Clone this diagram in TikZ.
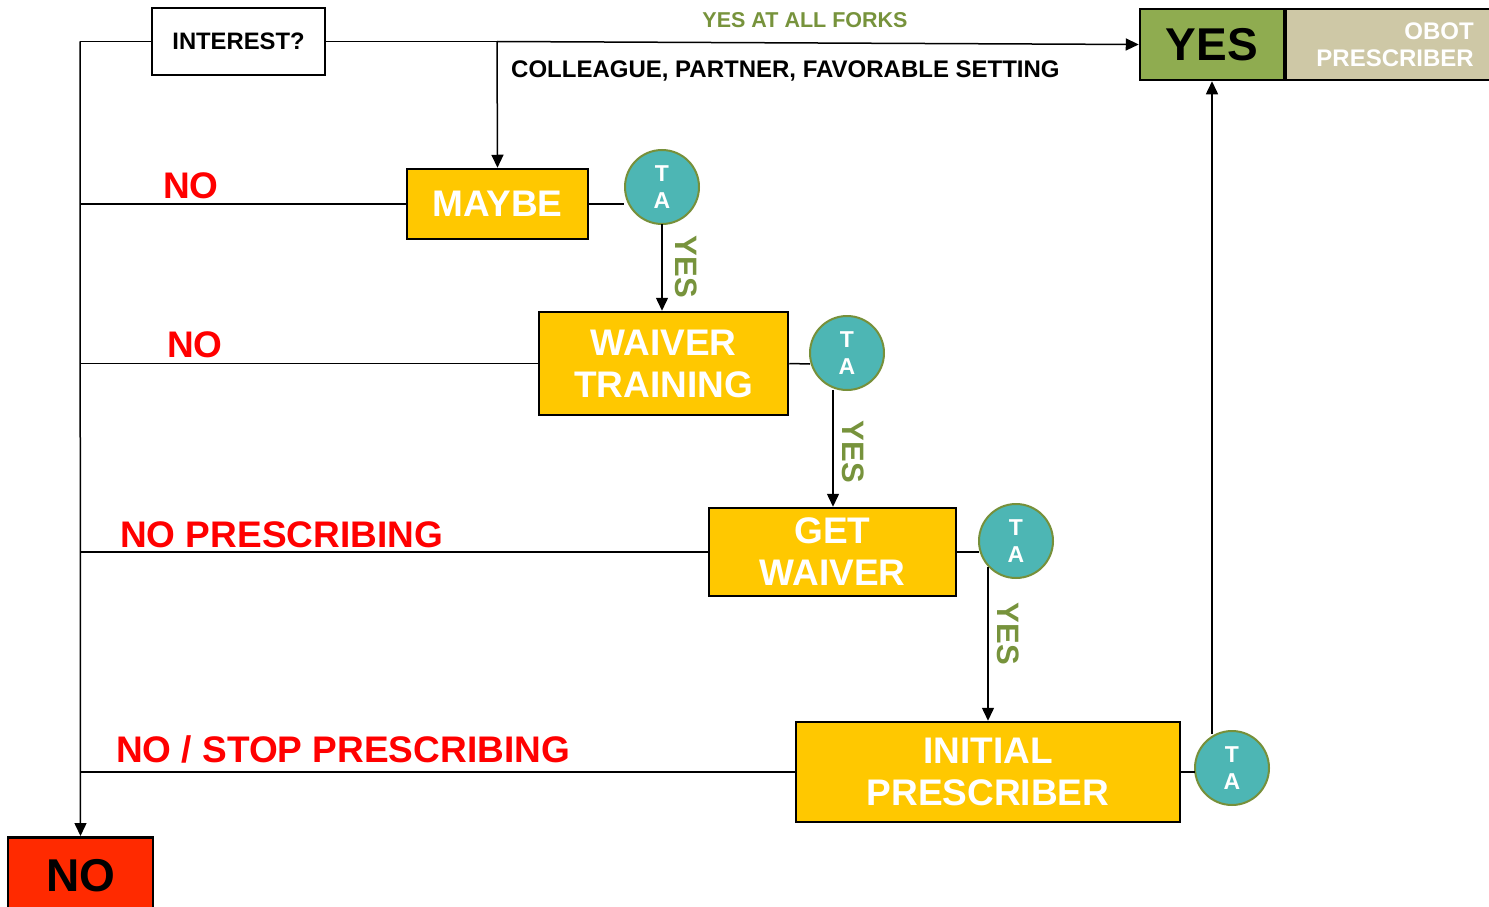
\documentclass[tikz,border=0pt]{standalone}
\usepackage{fontspec}
\setmainfont{Liberation Sans}
\usetikzlibrary{arrows.meta}
\definecolor{gold}{HTML}{FFC800}
\definecolor{leaf}{HTML}{8FAC50}
\definecolor{sand}{HTML}{CEC8A6}
\definecolor{alarm}{HTML}{FF2A00}
\definecolor{teal}{HTML}{4DB6B4}
\definecolor{olive}{HTML}{77903A}
\definecolor{yesgreen}{HTML}{77933C}
\tikzset{
  box/.style={draw=black, line width=2.5pt, inner sep=0pt, align=center},
  stage/.style={box, fill=gold, text=white, font=\bfseries\fontsize{37}{42}\selectfont},
  ta/.style={circle, draw=olive, line width=2pt, fill=teal, text=white, minimum size=74pt,
    inner sep=0pt, align=center, font=\bfseries\fontsize{23}{27}\selectfont},
  link/.style={line width=1.5pt, draw=black},
  arr/.style={link, -{Triangle[length=13pt,width=12pt]}},
  nolabel/.style={text=red, font=\bfseries\fontsize{37}{40}\selectfont, anchor=west, inner sep=0pt},
  yeslabel/.style={text=yesgreen, font=\bfseries\fontsize{31}{34}\selectfont, rotate=-90, inner sep=0pt}
}
\begin{document}
\begin{tikzpicture}[x=1pt,y=-1pt]
\useasboundingbox (0,0) rectangle (1489,907);

% decision boxes
\node[box, minimum width=173pt, minimum height=67pt, font=\bfseries\fontsize{23.8}{26}\selectfont] (interest) at (238.5,41.5) {INTEREST?};
\node[box, fill=leaf, minimum width=144pt, minimum height=71pt, font=\bfseries\fontsize{46}{50}\selectfont] (yes) at (1212,44.5) {YES};
\node[box, fill=sand, minimum width=220pt, minimum height=71pt, anchor=west] (obot) at (1284,44.5) {};
\node[text=white, align=right, anchor=east, inner sep=0pt, font=\bfseries\fontsize{24}{27}\selectfont] (obottxt) at (1474,44.5) {OBOT\\PRESCRIBER};
\node[box, fill=alarm, minimum width=145pt, minimum height=90pt, anchor=north] (no) at (80.5,836) {};
\node[font=\bfseries\fontsize{46}{50}\selectfont, inner sep=0pt] (notxt) at (81,876) {NO};

% stage boxes
\node[stage, minimum width=181pt, minimum height=70pt] (maybe) at (497.5,204) {MAYBE};
\node[stage, minimum width=249pt, minimum height=103pt] (waiver) at (663.5,363.5) {WAIVER\\TRAINING};
\node[stage, minimum width=247pt, minimum height=88pt] (get) at (832.5,552) {GET\\WAIVER};
\node[stage, minimum width=384pt, minimum height=100pt] (initial) at (988,772) {INITIAL\\PRESCRIBER};

% TA circles
\node[ta] (ta1) at (662,187) {T\\A};
\node[ta] (ta2) at (847,353) {T\\A};
\node[ta] (ta3) at (1016,541) {T\\A};
\node[ta] (ta4) at (1232,768) {T\\A};

% top fork
\coordinate (fork) at (497,41.5);
\draw[link] (interest.east) -- (fork);
\draw[arr] (fork) -- (yes.west);
\draw[arr] (fork) -- (maybe.north);
\node[text=yesgreen, font=\bfseries\fontsize{21.5}{24}\selectfont] (allforks) at (805,20) {YES AT ALL FORKS};
\node[anchor=west, inner sep=0pt, font=\bfseries\fontsize{24}{26}\selectfont] (setting) at (511,71) {COLLEAGUE, PARTNER, FAVORABLE SETTING};

% stage to TA links
\draw[link] (maybe.east) -- (ta1.west |- maybe.east);
\draw[link] (waiver.east) -- (810,364);
\draw[link] (get.east) -- (979,552);
\draw[link] (initial.east) -- (1195,772);

% YES paths between stages
\coordinate (t1) at (662,224);
\coordinate (t2) at (833,390);
\coordinate (t3) at (988,567);
\coordinate (t4) at (1212,734);
\draw[arr] (t1) -- (t1 |- waiver.north);
\draw[arr] (t2) -- (t2 |- get.north);
\draw[arr] (t3) -- (t3 |- initial.north);
\draw[arr] (t4) -- (yes.south);
\node[yeslabel] (y1) at (686,267) {YES};
\node[yeslabel] (y2) at (853,452) {YES};
\node[yeslabel] (y3) at (1008,634) {YES};

% NO paths to the left spine
\coordinate (spine) at (80,41.5);
\draw[link] (interest.west) -- (spine);
\draw[arr] (spine) -- (no.north);
\draw[link] (maybe.west) -- (80,204);
\draw[link] (waiver.west) -- (80,363.5);
\draw[link] (get.west) -- (80,552);
\draw[link] (initial.west) -- (80,772);
\node[nolabel] (n1) at (163,186) {NO};
\node[nolabel] (n2) at (167,345) {NO};
\node[nolabel] (n3) at (120,535) {NO PRESCRIBING};
\node[nolabel] (n4) at (116,749) {NO / STOP PRESCRIBING};
\end{tikzpicture}
\end{document}
